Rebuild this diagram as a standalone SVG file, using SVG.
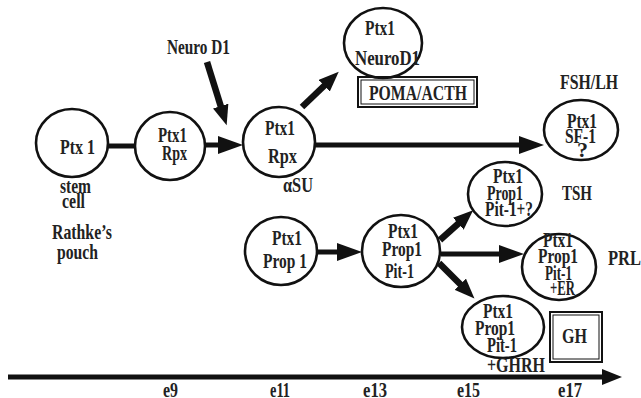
<svg xmlns="http://www.w3.org/2000/svg" width="641" height="398" viewBox="0 0 641 398">
<style>
.n{fill:#fff;stroke:#111;stroke-width:2.6}
.t{font-family:"Liberation Serif","Times New Roman",serif;font-weight:bold;font-size:22px;fill:#222}
.c{stroke:#111;stroke-width:5;fill:none}
.d{stroke-width:6.5}
.b{fill:none;stroke:#111}
</style>
<defs>
<marker id="ab" markerUnits="userSpaceOnUse" markerWidth="26" markerHeight="18" viewBox="0 0 26 18" refX="1" refY="9" orient="auto"><path d="M0,0 L25,9 L0,18 z" fill="#111"/></marker>
<marker id="am" markerUnits="userSpaceOnUse" markerWidth="21" markerHeight="16" viewBox="0 0 21 16" refX="1" refY="8" orient="auto"><path d="M0,0 L20,8 L0,16 z" fill="#111"/></marker>
</defs>
<rect width="641" height="398" fill="#fff"/>
<g id="connectors">
<line class="c" x1="108" y1="146" x2="136" y2="146"/>
<line class="c" x1="205" y1="145" x2="219" y2="145" marker-end="url(#ab)"/>
<line class="c d" x1="207" y1="62" x2="221" y2="107" marker-end="url(#am)"/>
<line class="c d" x1="302" y1="107" x2="325" y2="85" marker-end="url(#am)"/>
<line class="c" x1="315" y1="145" x2="520" y2="145" marker-end="url(#ab)"/>
<line class="c" x1="318" y1="252" x2="338" y2="252" marker-end="url(#ab)"/>
<line class="c d" x1="440" y1="240" x2="459" y2="223" marker-end="url(#am)"/>
<line class="c" x1="441" y1="254" x2="500" y2="254" marker-end="url(#ab)"/>
<line class="c d" x1="439" y1="263" x2="461" y2="285" marker-end="url(#am)"/>
<line class="c" x1="8" y1="377" x2="603" y2="377" stroke-width="4.5" marker-end="url(#am)"/>
</g>
<g id="node-ptx1">
<ellipse class="n" cx="72" cy="143" rx="36" ry="34"/>
<text class="t" x="60" y="154" font-size="23" textLength="35" lengthAdjust="spacingAndGlyphs">Ptx 1</text>
<text class="t" x="60" y="193" textLength="31" lengthAdjust="spacingAndGlyphs">stem</text>
<text class="t" x="62" y="208" textLength="23" lengthAdjust="spacingAndGlyphs">cell</text>
<text class="t" x="52" y="239" textLength="60" lengthAdjust="spacingAndGlyphs">Rathke’s</text>
<text class="t" x="57" y="259" textLength="41" lengthAdjust="spacingAndGlyphs">pouch</text>
</g>
<g id="node-rpx1">
<ellipse class="n" cx="170" cy="146" rx="35" ry="34"/>
<text class="t" x="158" y="142" font-size="21" textLength="29" lengthAdjust="spacingAndGlyphs">Ptx1</text>
<text class="t" x="162" y="160" font-size="21" textLength="25" lengthAdjust="spacingAndGlyphs">Rpx</text>
</g>
<g id="label-neurod1">
<text class="t" x="167" y="54" textLength="63" lengthAdjust="spacingAndGlyphs">Neuro D1</text>
</g>
<g id="node-rpx2">
<ellipse class="n" cx="279" cy="142" rx="36" ry="35"/>
<text class="t" x="265" y="135" font-size="23" textLength="30" lengthAdjust="spacingAndGlyphs">Ptx1</text>
<text class="t" x="268" y="163" font-size="23" textLength="29" lengthAdjust="spacingAndGlyphs">Rpx</text>
<text class="t" x="283" y="192" font-size="21" textLength="30" lengthAdjust="spacingAndGlyphs">αSU</text>
</g>
<g id="node-neurod1">
<ellipse class="n" cx="383" cy="43" rx="39" ry="35"/>
<text class="t" x="365" y="35" font-size="21" textLength="30" lengthAdjust="spacingAndGlyphs">Ptx1</text>
<text class="t" x="355" y="65" textLength="65" lengthAdjust="spacingAndGlyphs">NeuroD1</text>
</g>
<g id="box-poma">
<rect class="b" x="358" y="77" width="119" height="30" stroke-width="2"/>
<rect class="b" x="361" y="80" width="113" height="24" stroke-width="1"/>
<text class="t" x="369" y="100" textLength="98" lengthAdjust="spacingAndGlyphs">POMA/ACTH</text>
</g>
<g id="node-sf1">
<text class="t" x="560" y="89" textLength="58" lengthAdjust="spacingAndGlyphs">FSH/LH</text>
<ellipse class="n" cx="581" cy="130" rx="37" ry="30"/>
<text class="t" x="567" y="128" textLength="30" lengthAdjust="spacingAndGlyphs">Ptx1</text>
<text class="t" x="565" y="143" textLength="31" lengthAdjust="spacingAndGlyphs">SF-1</text>
<text class="t" x="577" y="157" font-size="14">?</text>
</g>
<g id="node-tsh">
<ellipse class="n" cx="505" cy="194" rx="37" ry="32"/>
<text class="t" x="493" y="183" textLength="30" lengthAdjust="spacingAndGlyphs">Ptx1</text>
<text class="t" x="487" y="200" textLength="36" lengthAdjust="spacingAndGlyphs">Prop1</text>
<text class="t" x="485" y="216" textLength="48" lengthAdjust="spacingAndGlyphs">Pit-1+?</text>
<text class="t" x="562" y="200" textLength="30" lengthAdjust="spacingAndGlyphs">TSH</text>
</g>
<g id="node-prop1">
<ellipse class="n" cx="281" cy="251" rx="36" ry="34"/>
<text class="t" x="272" y="245" textLength="30" lengthAdjust="spacingAndGlyphs">Ptx1</text>
<text class="t" x="263" y="268" textLength="44" lengthAdjust="spacingAndGlyphs">Prop 1</text>
</g>
<g id="node-pit1">
<ellipse class="n" cx="401" cy="251" rx="39" ry="36"/>
<text class="t" x="388" y="238" textLength="30" lengthAdjust="spacingAndGlyphs">Ptx1</text>
<text class="t" x="382" y="256" textLength="40" lengthAdjust="spacingAndGlyphs">Prop1</text>
<text class="t" x="385" y="278" textLength="29" lengthAdjust="spacingAndGlyphs">Pit-1</text>
</g>
<g id="node-prl">
<ellipse class="n" cx="559" cy="267" rx="37" ry="33"/>
<text class="t" x="543" y="247" textLength="30" lengthAdjust="spacingAndGlyphs">Ptx1</text>
<text class="t" x="538" y="263" textLength="40" lengthAdjust="spacingAndGlyphs">Prop1</text>
<text class="t" x="545" y="280" textLength="27" lengthAdjust="spacingAndGlyphs">Pit-1</text>
<text class="t" x="550" y="295" textLength="25" lengthAdjust="spacingAndGlyphs">+ER</text>
<text class="t" x="608" y="265" textLength="33" lengthAdjust="spacingAndGlyphs">PRL</text>
</g>
<g id="node-ghrh">
<ellipse class="n" cx="503" cy="327" rx="41" ry="31"/>
<text class="t" x="483" y="318" textLength="30" lengthAdjust="spacingAndGlyphs">Ptx1</text>
<text class="t" x="475" y="335" textLength="40" lengthAdjust="spacingAndGlyphs">Prop1</text>
<text class="t" x="487" y="352" textLength="30" lengthAdjust="spacingAndGlyphs">Pit-1</text>
<text class="t" x="487" y="372" textLength="58" lengthAdjust="spacingAndGlyphs">+GHRH</text>
</g>
<g id="box-gh">
<rect class="b" x="550" y="312" width="52" height="50" stroke-width="2"/>
<rect class="b" x="553" y="315" width="46" height="44" stroke-width="1"/>
<text class="t" x="562" y="343" textLength="25" lengthAdjust="spacingAndGlyphs">GH</text>
</g>
<g id="timeline-labels">
<text class="t" x="163" y="397" textLength="15" lengthAdjust="spacingAndGlyphs">e9</text>
<text class="t" x="270" y="397" textLength="20" lengthAdjust="spacingAndGlyphs">e11</text>
<text class="t" x="363" y="397" textLength="24" lengthAdjust="spacingAndGlyphs">e13</text>
<text class="t" x="457" y="397" textLength="23" lengthAdjust="spacingAndGlyphs">e15</text>
<text class="t" x="558" y="397" textLength="24" lengthAdjust="spacingAndGlyphs">e17</text>
</g>
</svg>
